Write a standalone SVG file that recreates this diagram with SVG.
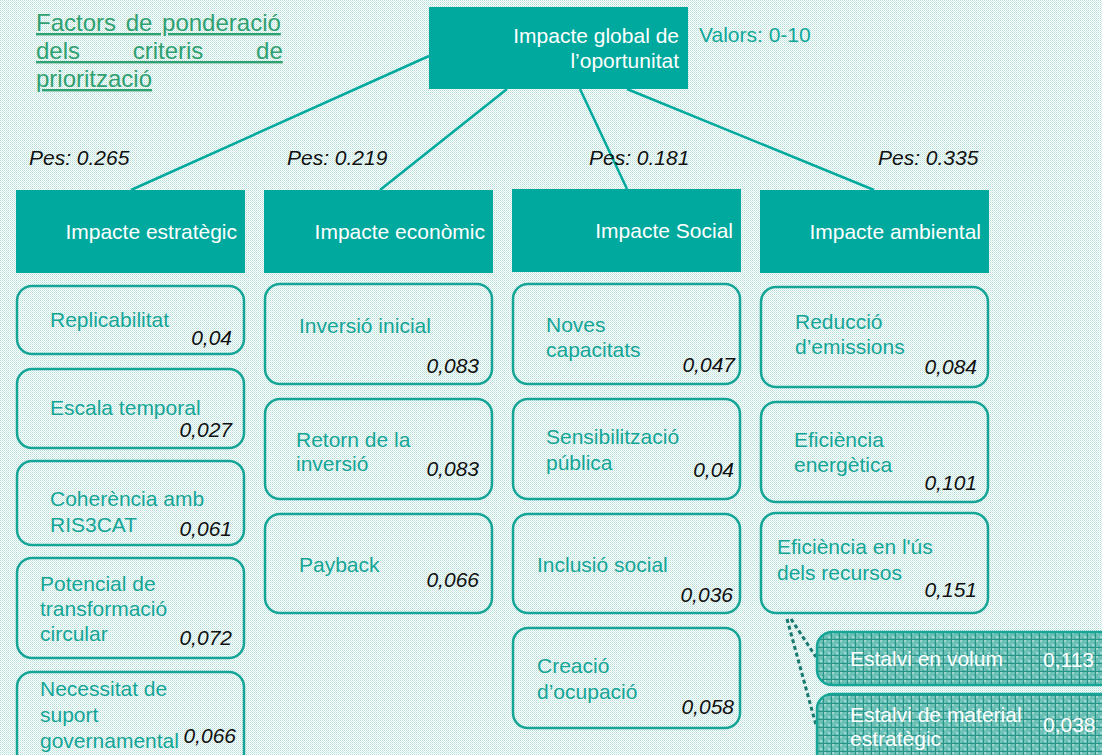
<svg xmlns="http://www.w3.org/2000/svg" width="1102" height="755" viewBox="0 0 1102 755">
<defs>
<pattern id="bg" width="2" height="2" patternUnits="userSpaceOnUse">
<rect width="2" height="2" fill="#ffffff"/>
<rect x="0" y="0" width="1" height="1" fill="#b2ded8"/>
<rect x="1" y="1" width="1" height="1" fill="#d4ece9"/>
</pattern>
<pattern id="grid" width="8" height="8" patternUnits="userSpaceOnUse">
<rect width="8" height="8" fill="#6cc0b6"/>
<rect x="0" y="0" width="2" height="2" fill="#9fd8d0"/>
<rect x="4" y="4" width="2" height="2" fill="#9fd8d0"/>
<rect x="2" y="6" width="2" height="2" fill="#4fb0a5"/>
<rect x="6" y="2" width="2" height="2" fill="#4fb0a5"/>
<rect x="7" y="0" width="1" height="8" fill="#279488"/>
<rect x="0" y="7" width="8" height="1" fill="#279488"/>
</pattern>
</defs>
<style>
text{font-family:"Liberation Sans",Arial,sans-serif;font-size:21px}
.hdr{fill:#00a99d}
.hdrt{fill:#ffffff;text-anchor:end}
.sub{fill:none;stroke:#14a597;stroke-width:2.5}
.lbl{fill:#14a597}
.val{fill:#111111;font-style:italic;text-anchor:end}
.pes{fill:#111111;font-style:italic}
.con{stroke:#00a99d;stroke-width:2.5;fill:none}
.dash{stroke:#16786f;stroke-width:3;fill:none;stroke-dasharray:4 3}
.dk{fill:url(#grid);stroke:#14a597;stroke-width:2.5}
.wt{fill:#ffffff}
.title{fill:#2fa070;font-size:24px;text-decoration:underline}
</style>
<rect width="1102" height="755" fill="url(#bg)"/>

<g id="title">
<text class="title" x="36" y="31" word-spacing="3">Factors de ponderació</text>
<text class="title" x="36" y="59" word-spacing="46">dels criteris de</text>
<text class="title" x="36" y="87">priorització</text>
</g>

<g id="connectors">
<line class="con" x1="429" y1="56" x2="131" y2="190"/>
<line class="con" x1="507" y1="89" x2="380" y2="190"/>
<line class="con" x1="580" y1="89" x2="627" y2="189"/>
<line class="con" x1="627" y1="89" x2="874" y2="190"/>
<line class="dash" x1="787" y1="619" x2="816" y2="725"/>
<line class="dash" x1="791" y1="619" x2="816" y2="657"/>
</g>

<g id="global">
<rect class="hdr" x="429" y="7" width="259" height="82"/>
<text class="hdrt" x="679" y="43">Impacte global de</text>
<text class="hdrt" x="679" y="68">l’oportunitat</text>
</g>
<g id="valors"><text x="699" y="42" fill="#10a89a">Valors: 0-10</text></g>

<g id="pes">
<text class="pes" x="29" y="165">Pes: 0.265</text>
<text class="pes" x="287" y="165">Pes: 0.219</text>
<text class="pes" x="589" y="165">Pes: 0.181</text>
<text class="pes" x="878" y="165">Pes: 0.335</text>
</g>

<g id="h-estrategic">
<rect class="hdr" x="16" y="190" width="229" height="83"/>
<text class="hdrt" x="237" y="239">Impacte estratègic</text>
</g>
<g id="h-economic">
<rect class="hdr" x="264" y="190" width="229" height="83"/>
<text class="hdrt" x="485" y="239">Impacte econòmic</text>
</g>
<g id="h-social">
<rect class="hdr" x="512" y="189" width="229" height="83"/>
<text class="hdrt" x="733" y="238">Impacte Social</text>
</g>
<g id="h-ambiental">
<rect class="hdr" x="760" y="190" width="229" height="83"/>
<text class="hdrt" x="981" y="239">Impacte ambiental</text>
</g>

<g id="replicabilitat">
<rect class="sub" x="17" y="286" width="227" height="68" rx="15"/>
<text class="lbl" x="50" y="327">Replicabilitat</text>
<text class="val" x="232" y="345">0,04</text>
</g>
<g id="escala">
<rect class="sub" x="17" y="369" width="227" height="79" rx="15"/>
<text class="lbl" x="50" y="415">Escala temporal</text>
<text class="val" x="232" y="437">0,027</text>
</g>
<g id="coherencia">
<rect class="sub" x="17" y="461" width="227" height="84" rx="15"/>
<text class="lbl" x="50" y="506">Coherència amb</text>
<text class="lbl" x="50" y="532">RIS3CAT</text>
<text class="val" x="232" y="536">0,061</text>
</g>
<g id="potencial">
<rect class="sub" x="17" y="558" width="227" height="100" rx="15"/>
<text class="lbl" x="40" y="591">Potencial de</text>
<text class="lbl" x="40" y="616">transformació</text>
<text class="lbl" x="40" y="641">circular</text>
<text class="val" x="232" y="645">0,072</text>
</g>
<g id="necessitat">
<rect class="sub" x="17" y="672" width="227" height="100" rx="15"/>
<text class="lbl" x="40" y="696">Necessitat de</text>
<text class="lbl" x="40" y="722">suport</text>
<text class="lbl" x="40" y="748">governamental</text>
<text class="val" x="236" y="743">0,066</text>
</g>

<g id="inversio">
<rect class="sub" x="265" y="284" width="227" height="100" rx="15"/>
<text class="lbl" x="299" y="333">Inversió inicial</text>
<text class="val" x="479" y="373">0,083</text>
</g>
<g id="retorn">
<rect class="sub" x="265" y="399" width="227" height="100" rx="15"/>
<text class="lbl" x="296" y="447">Retorn de la</text>
<text class="lbl" x="296" y="471">inversió</text>
<text class="val" x="479" y="476">0,083</text>
</g>
<g id="payback">
<rect class="sub" x="265" y="514" width="227" height="99" rx="15"/>
<text class="lbl" x="299" y="572">Payback</text>
<text class="val" x="479" y="587">0,066</text>
</g>

<g id="noves">
<rect class="sub" x="513" y="284" width="227" height="100" rx="15"/>
<text class="lbl" x="546" y="332">Noves</text>
<text class="lbl" x="546" y="357">capacitats</text>
<text class="val" x="735" y="372">0,047</text>
</g>
<g id="sensibilitzacio">
<rect class="sub" x="513" y="399" width="227" height="100" rx="15"/>
<text class="lbl" x="546" y="444">Sensibilització</text>
<text class="lbl" x="546" y="470">pública</text>
<text class="val" x="734" y="477">0,04</text>
</g>
<g id="inclusio">
<rect class="sub" x="513" y="514" width="227" height="99" rx="15"/>
<text class="lbl" x="537" y="572">Inclusió social</text>
<text class="val" x="733" y="602">0,036</text>
</g>
<g id="creacio">
<rect class="sub" x="513" y="628" width="227" height="100" rx="15"/>
<text class="lbl" x="537" y="673">Creació</text>
<text class="lbl" x="537" y="699">d’ocupació</text>
<text class="val" x="734" y="714">0,058</text>
</g>

<g id="reduccio">
<rect class="sub" x="761" y="287" width="227" height="100" rx="15"/>
<text class="lbl" x="795" y="329">Reducció</text>
<text class="lbl" x="795" y="354">d’emissions</text>
<text class="val" x="977" y="374">0,084</text>
</g>
<g id="eficiencia-energetica">
<rect class="sub" x="761" y="402" width="227" height="100" rx="15"/>
<text class="lbl" x="794" y="447">Eficiència</text>
<text class="lbl" x="794" y="472">energètica</text>
<text class="val" x="977" y="490">0,101</text>
</g>
<g id="eficiencia-recursos">
<rect class="sub" x="761" y="513" width="227" height="100" rx="15"/>
<text class="lbl" x="777" y="554">Eficiència en l'ús</text>
<text class="lbl" x="777" y="580">dels recursos</text>
<text class="val" x="977" y="597">0,151</text>
</g>

<g id="estalvi-volum">
<rect class="dk" x="817" y="632" width="310" height="53" rx="15"/>
<text class="wt" x="850" y="666">Estalvi en volum</text>
<text class="wt" x="1043" y="667">0,113</text>
</g>
<g id="estalvi-material">
<rect class="dk" x="817" y="694" width="310" height="90" rx="15"/>
<text class="wt" x="850" y="722">Estalvi de material</text>
<text class="wt" x="850" y="746">estratègic</text>
<text class="wt" x="1043" y="732">0,038</text>
</g>
</svg>
